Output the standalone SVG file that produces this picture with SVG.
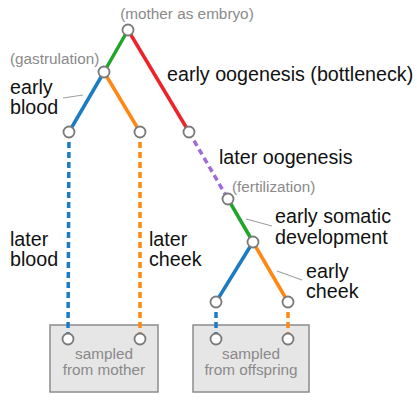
<svg xmlns="http://www.w3.org/2000/svg" width="417" height="400" viewBox="0 0 417 400">
<style>
.t{font-family:"Liberation Sans",Arial,sans-serif;font-size:19.7px;fill:#111}
.g{font-family:"Liberation Sans",Arial,sans-serif;font-size:15.3px;fill:#8a8a8a}
.s{font-family:"Liberation Sans",Arial,sans-serif;font-size:15.3px;fill:#8a8a8a;text-anchor:middle}
.n{fill:#fff;stroke:#7a7a7a;stroke-width:1.8}
.e{fill:none;stroke-width:3.5}
.d{stroke-dasharray:6 4}
.box{fill:#e6e6e6;stroke:#8c8c8c;stroke-width:1.5}
.ld{stroke:#a0a0a0;stroke-width:1.2}
</style>
<rect width="417" height="400" fill="#fff"/>
<g id="boxes">
<rect id="box-mother" class="box" x="50" y="325" width="108" height="67"/>
<rect id="box-offspring" class="box" x="193" y="325" width="116" height="67"/>
</g>
<g id="connectors">
<line class="e" stroke="#1fa52a" x1="128" y1="30" x2="104" y2="72"/>
<line class="e" stroke="#ee2229" x1="128" y1="30" x2="189" y2="132"/>
<line class="e" stroke="#1b7bc3" x1="104" y1="72" x2="69" y2="132"/>
<line class="e" stroke="#ff8714" x1="104" y1="72" x2="140" y2="132"/>
<line class="e d" stroke="#1b7bc3" x1="69" y1="132" x2="68" y2="339"/>
<line class="e d" stroke="#ff8714" x1="140" y1="132" x2="140" y2="339"/>
<line class="e d" stroke="#a06cd5" x1="189" y1="132" x2="228" y2="199"/>
<line class="e" stroke="#1fa52a" x1="228" y1="199" x2="253" y2="242"/>
<line class="e" stroke="#1b7bc3" x1="253" y1="242" x2="216" y2="302"/>
<line class="e" stroke="#ff8714" x1="253" y1="242" x2="288" y2="302"/>
<line class="e d" stroke="#1b7bc3" x1="216" y1="302" x2="216" y2="339"/>
<line class="e d" stroke="#ff8714" x1="288" y1="302" x2="288" y2="339"/>
<line class="ld" x1="63" y1="98" x2="83" y2="95"/>
<line class="ld" x1="246" y1="219" x2="272" y2="226"/>
<line class="ld" x1="277" y1="271" x2="302" y2="280"/>
</g>
<g id="node-embryo"><circle class="n" cx="128" cy="30" r="5.5"/><text class="g" x="187" y="19" text-anchor="middle">(mother as embryo)</text></g>
<g id="node-gastrulation"><circle class="n" cx="104" cy="72" r="5.5"/><text class="g" x="10" y="64">(gastrulation)</text></g>
<g id="node-mblood"><circle class="n" cx="69" cy="132" r="5.5"/></g>
<g id="node-mcheek"><circle class="n" cx="140" cy="132" r="5.5"/></g>
<g id="node-oogenesis"><circle class="n" cx="189" cy="132" r="5.5"/></g>
<g id="node-fertilization"><circle class="n" cx="228" cy="199" r="5.5"/><text class="g" x="232" y="192">(fertilization)</text></g>
<g id="node-somatic"><circle class="n" cx="253" cy="242" r="5.5"/></g>
<g id="node-oblood"><circle class="n" cx="216" cy="302" r="5.5"/></g>
<g id="node-ocheek"><circle class="n" cx="288" cy="302" r="5.5"/></g>
<g id="node-sample-mother">
<circle class="n" cx="68" cy="339" r="5.5"/><circle class="n" cx="140" cy="339" r="5.5"/>
<text class="s" x="104" y="359">sampled</text><text class="s" x="104" y="375">from mother</text>
</g>
<g id="node-sample-offspring">
<circle class="n" cx="216" cy="339" r="5.5"/><circle class="n" cx="288" cy="339" r="5.5"/>
<text class="s" x="251" y="359">sampled</text><text class="s" x="251" y="375">from offspring</text>
</g>
<g id="labels">
<text class="t" x="10" y="94">early</text><text class="t" x="10" y="114">blood</text>
<text class="t" x="167" y="81">early oogenesis (bottleneck)</text>
<text class="t" x="219" y="164">later oogenesis</text>
<text class="t" x="275" y="223">early somatic</text><text class="t" x="275" y="244">development</text>
<text class="t" x="306" y="278">early</text><text class="t" x="306" y="298">cheek</text>
<text class="t" x="10" y="246">later</text><text class="t" x="10" y="266">blood</text>
<text class="t" x="149" y="246">later</text><text class="t" x="149" y="266">cheek</text>
</g>
</svg>
